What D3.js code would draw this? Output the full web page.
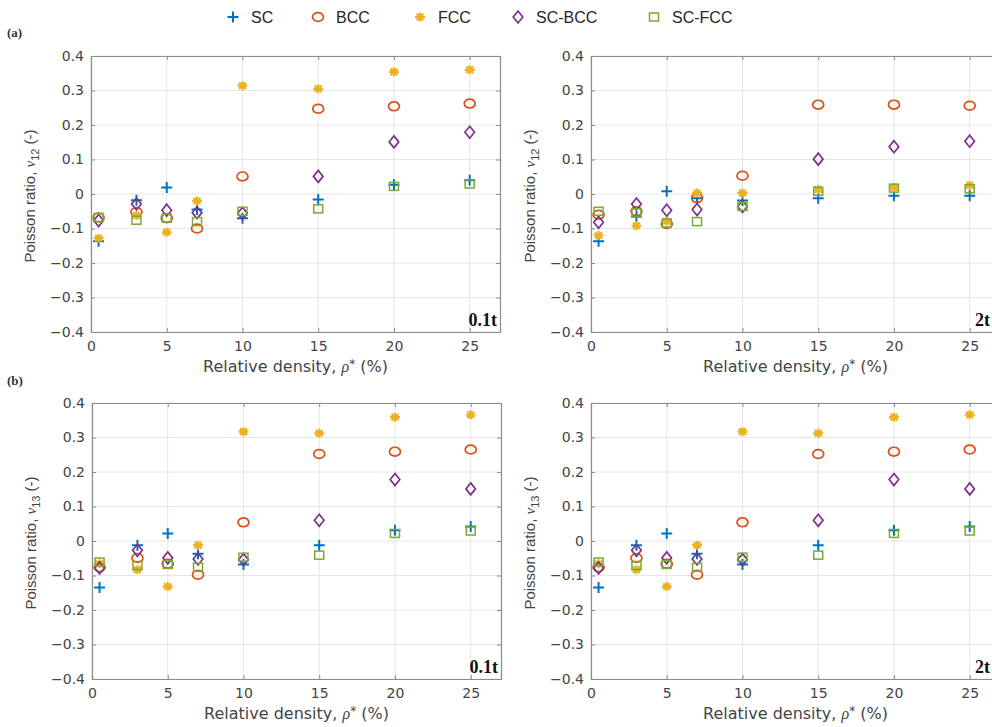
<!DOCTYPE html>
<html>
<head>
<meta charset="utf-8">
<script src="https://cdn.jsdelivr.net/npm/d3@7"></script>
<style>
  body { margin: 0; background: #fff; }
  svg { display: block; font-family: "DejaVu Sans", sans-serif; }
</style>
</head>
<body>
<script>
// relative density values (%)
var density = [0.5, 3, 5, 7, 10, 15, 20, 25];
var seriesNames = ["SC", "BCC", "FCC", "SC-BCC", "SC-FCC"];
var xTicks = [0, 5, 10, 15, 20, 25];
var yTicks = [-0.4, -0.3, -0.2, -0.1, 0, 0.1, 0.2, 0.3, 0.4];

// (a) nu12, 0.1t
var sc_12_01 = [-0.137, -0.018, 0.019, -0.045, -0.07, -0.016, 0.027, 0.04];
var bcc_12_01 = [-0.068, -0.052, -0.07, -0.1, 0.051, 0.247, 0.254, 0.262];
var fcc_12_01 = [-0.128, -0.062, -0.111, -0.02, 0.314, 0.305, 0.354, 0.36];
var scbcc_12_01 = [-0.077, -0.029, -0.047, -0.054, -0.056, 0.051, 0.151, 0.179];
var scfcc_12_01 = [-0.068, -0.076, -0.07, -0.08, -0.05, -0.043, 0.022, 0.029];

// (a) nu12, 2t
var sc_12_2 = [-0.137, -0.065, 0.008, -0.012, -0.019, -0.012, -0.005, -0.005];
var bcc_12_2 = [-0.06, -0.05, -0.087, -0.012, 0.053, 0.259, 0.259, 0.256];
var fcc_12_2 = [-0.12, -0.092, -0.079, 0.003, 0.003, 0.013, 0.019, 0.025];
var scbcc_12_2 = [-0.082, -0.029, -0.047, -0.045, -0.036, 0.101, 0.137, 0.153];
var scfcc_12_2 = [-0.05, -0.055, -0.084, -0.08, -0.036, 0.008, 0.017, 0.015];

// (b) nu13, 0.1t
var sc_13_01 = [-0.135, -0.012, 0.022, -0.037, -0.068, -0.012, 0.031, 0.042];
var bcc_13_01 = [-0.076, -0.049, -0.066, -0.098, 0.054, 0.252, 0.259, 0.265];
var fcc_13_01 = [-0.066, -0.083, -0.132, -0.012, 0.317, 0.312, 0.359, 0.366];
var scbcc_13_01 = [-0.078, -0.027, -0.049, -0.052, -0.054, 0.06, 0.178, 0.151];
var scfcc_13_01 = [-0.061, -0.071, -0.068, -0.076, -0.047, -0.041, 0.022, 0.029];

// (b) nu13, 2t
var sc_13_2 = [-0.135, -0.012, 0.022, -0.037, -0.068, -0.012, 0.031, 0.042];
var bcc_13_2 = [-0.076, -0.049, -0.066, -0.098, 0.054, 0.252, 0.259, 0.265];
var fcc_13_2 = [-0.066, -0.083, -0.132, -0.012, 0.317, 0.312, 0.359, 0.366];
var scbcc_13_2 = [-0.078, -0.027, -0.049, -0.052, -0.054, 0.06, 0.178, 0.151];
var scfcc_13_2 = [-0.061, -0.071, -0.068, -0.076, -0.047, -0.041, 0.022, 0.029];

var colors = ["#0072BD", "#D95319", "#EDB120", "#7E2F8E", "#77AC30"];

var w = 992, h = 727;
var svg = d3.select("body").append("svg").attr("width", w).attr("height", h);

var pw = 409, ph = 276;
var panels = [
  { left: 91, top: 56, sub: "12", tag: "0.1t", data: [sc_12_01, bcc_12_01, fcc_12_01, scbcc_12_01, scfcc_12_01] },
  { left: 591, top: 56, sub: "12", tag: "2t", data: [sc_12_2, bcc_12_2, fcc_12_2, scbcc_12_2, scfcc_12_2] },
  { left: 92, top: 403, sub: "13", tag: "0.1t", data: [sc_13_01, bcc_13_01, fcc_13_01, scbcc_13_01, scfcc_13_01] },
  { left: 591, top: 403, sub: "13", tag: "2t", data: [sc_13_2, bcc_13_2, fcc_13_2, scbcc_13_2, scfcc_13_2] }
];

// marker drawing
function drawMarker(g, type, color) {
  if (type == 0) {
    g.append("path").attr("d", "M-5.5,0H5.5M0,-5.5V5.5").attr("stroke", color).attr("stroke-width", 2).attr("fill", "none");
  } else if (type == 1) {
    g.append("ellipse").attr("rx", 5.5).attr("ry", 4.4).attr("stroke", color).attr("stroke-width", 1.7).attr("fill", "none");
  } else if (type == 2) {
    g.append("path").attr("d", "M-5,0H5M0,-4.5V4.5M-3.5,-3.2L3.5,3.2M-3.5,3.2L3.5,-3.2")
      .attr("stroke", color).attr("stroke-width", 2.2).attr("fill", "none");
  } else if (type == 3) {
    g.append("path").attr("d", "M0,-6L4.8,0L0,6L-4.8,0Z").attr("stroke", color).attr("stroke-width", 1.7).attr("fill", "none");
  } else {
    g.append("rect").attr("x", -4.5).attr("y", -4).attr("width", 9).attr("height", 8)
      .attr("stroke", color).attr("stroke-width", 1.5).attr("fill", "none");
  }
}

panels.forEach(function(p) {
  var x = d3.scaleLinear().domain([0, 27]).range([p.left, p.left + pw]);
  var y = d3.scaleLinear().domain([-0.4, 0.4]).range([p.top + ph, p.top]);
  var g = svg.append("g");

  // grid
  g.selectAll(".gx").data(xTicks).enter().append("line")
    .attr("x1", function(d) { return x(d); }).attr("x2", function(d) { return x(d); })
    .attr("y1", p.top).attr("y2", p.top + ph)
    .attr("stroke", "#e6e6e6").attr("stroke-width", 1);
  g.selectAll(".gy").data(yTicks).enter().append("line")
    .attr("x1", p.left).attr("x2", p.left + pw)
    .attr("y1", function(d) { return y(d); }).attr("y2", function(d) { return y(d); })
    .attr("stroke", "#e6e6e6").attr("stroke-width", 1);

  // axes (ticks inward)
  g.append("g").attr("transform", "translate(0," + (p.top + ph) + ")")
    .call(d3.axisBottom(x).tickValues(xTicks).tickSize(-4).tickPadding(9).tickFormat(d3.format("d")));
  g.append("g").attr("transform", "translate(" + p.left + ",0)")
    .call(d3.axisLeft(y).tickValues(yTicks).tickSize(-4).tickPadding(7)
      .tickFormat(function(d) { return d == 0 ? "0" : d3.format(".1f")(d); }));
  g.append("g").attr("transform", "translate(0," + p.top + ")")
    .call(d3.axisTop(x).tickValues(xTicks).tickSize(-4).tickFormat(""));
  g.append("g").attr("transform", "translate(" + (p.left + pw) + ",0)")
    .call(d3.axisRight(y).tickValues(yTicks).tickSize(-4).tickFormat(""));
  g.selectAll(".domain").attr("stroke", "#8c8c8c").attr("stroke-width", 1.2);
  g.selectAll(".tick line").attr("stroke", "#8c8c8c");
  g.selectAll(".tick text").attr("fill", "#444").attr("font-size", "14px")
    .attr("font-family", "DejaVu Sans, sans-serif");

  // labels
  g.append("text")
    .attr("x", p.left + pw / 2).attr("y", p.top + ph + 40)
    .attr("text-anchor", "middle").attr("font-size", "16px").attr("fill", "#444")
    .call(function(t) {
      t.append("tspan").text("Relative density, ");
      t.append("tspan").attr("font-style", "italic").attr("font-family", "Liberation Serif, serif").text("ρ");
      t.append("tspan").attr("font-size", "12px").attr("dy", -4).text("*");
      t.append("tspan").attr("dy", 4).text(" (%)");
    });
  g.append("text")
    .attr("transform", "translate(" + (p.left - 56) + "," + (p.top + ph / 2 + 2) + ") rotate(-90)")
    .attr("text-anchor", "middle").attr("font-size", "15px").attr("fill", "#444")
    .attr("font-family", "Liberation Sans, Arial, sans-serif")
    .call(function(t) {
      t.append("tspan").text("Poisson ratio, ");
      t.append("tspan").attr("font-style", "italic").attr("font-family", "Liberation Serif, serif").text("ν");
      t.append("tspan").attr("font-size", "11px").attr("dy", 4).text(p.sub);
      t.append("tspan").attr("dy", -4).text(" (-)");
    });
  g.append("text")
    .attr("x", Math.min(p.left + pw - 3, 990)).attr("y", p.top + ph - 6)
    .attr("text-anchor", "end").attr("font-family", "Liberation Serif, serif")
    .attr("font-weight", "bold").attr("font-size", "18px").attr("fill", "#111")
    .text(p.tag);

  // markers
  p.data.forEach(function(vals, si) {
    vals.forEach(function(v, i) {
      var m = g.append("g").attr("transform", "translate(" + x(density[i]) + "," + y(v) + ")");
      drawMarker(m, si, colors[si]);
    });
  });
});

// legend
var legX = [233, 318, 420, 518, 654];
seriesNames.forEach(function(name, i) {
  var m = svg.append("g").attr("transform", "translate(" + legX[i] + ",17)");
  drawMarker(m, i, colors[i]);
  svg.append("text").attr("x", legX[i] + 18).attr("y", 23)
    .attr("font-size", "16px").attr("fill", "#262626")
    .attr("font-family", "Liberation Sans, Arial, sans-serif").text(name);
});

svg.append("text").attr("x", 7).attr("y", 37).attr("font-family", "Liberation Serif, serif")
  .attr("font-weight", "bold").attr("font-size", "13px").attr("fill", "#333").text("(a)");
svg.append("text").attr("x", 7).attr("y", 385).attr("font-family", "Liberation Serif, serif")
  .attr("font-weight", "bold").attr("font-size", "13px").attr("fill", "#333").text("(b)");
</script>
</body>
</html>
